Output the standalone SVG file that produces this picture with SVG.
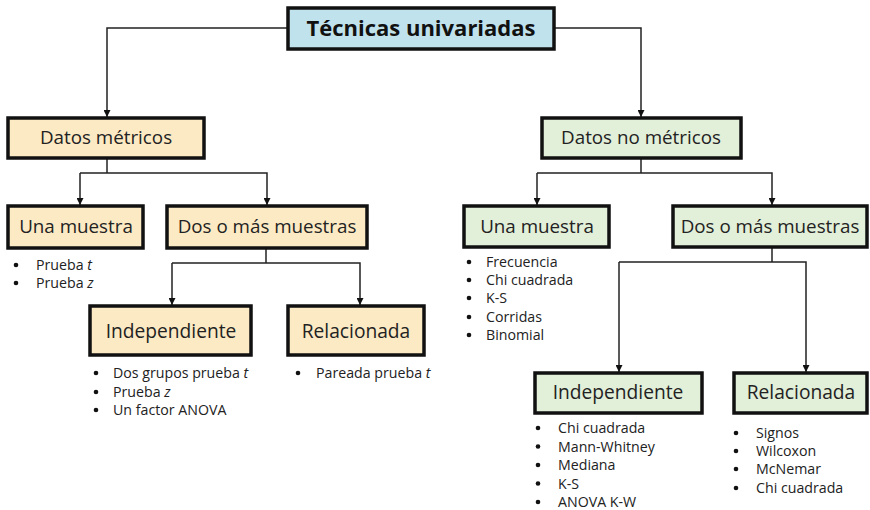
<svg xmlns="http://www.w3.org/2000/svg" width="870" height="510" viewBox="0 0 870 510">
<style>
.box{stroke:#111;stroke-width:3.5}
.blue{fill:#C0E2EC}
.beige{fill:#FCEAC4}
.green{fill:#E2EFD9}
.lbl{font-family:"Open Sans","Liberation Sans",sans-serif;font-size:18.8px;fill:#222;text-anchor:middle}
.lbl2{font-family:"Open Sans","Liberation Sans",sans-serif;font-size:19.2px;fill:#222;text-anchor:middle}
.title{font-family:"Open Sans","Liberation Sans",sans-serif;font-size:22px;font-weight:bold;fill:#111;text-anchor:middle}
.it{font-family:"Open Sans","Liberation Sans",sans-serif;font-size:14.2px;fill:#222}
.conn{fill:none;stroke:#222;stroke-width:1.5;marker-end:url(#ah)}
.conn0{fill:none;stroke:#222;stroke-width:1.5}
.dot{fill:#111}
</style>
<defs>
<marker id="ah" viewBox="0 0 10 10" refX="10" refY="5" markerWidth="7" markerHeight="7" markerUnits="userSpaceOnUse" orient="auto">
<path d="M0,0 L10,5 L0,10 z" fill="#111"/>
</marker>
</defs>
<g id="connectors">
<path class="conn" d="M287,28 H107 V117"/>
<path class="conn" d="M554,28 H641 V117"/>
<path class="conn0" d="M107,158 V173"/>
<path class="conn" d="M80,173 V205"/>
<path class="conn" d="M80,173 H267 V205"/>
<path class="conn0" d="M266,248 V263"/>
<path class="conn" d="M172,263 V305"/>
<path class="conn" d="M172,263 H360 V305"/>
<path class="conn0" d="M641,158 V173"/>
<path class="conn" d="M537,173 V205"/>
<path class="conn" d="M537,173 H772 V205"/>
<path class="conn0" d="M772,247 V262"/>
<path class="conn" d="M619,262 V372"/>
<path class="conn" d="M619,262 H806 V372"/>
</g>
<g id="root">
<rect class="box blue" x="288" y="8" width="266" height="41"/>
<text class="title" x="421" y="36">Técnicas univariadas</text>
</g>
<g id="metricos">
<rect class="box beige" x="8" y="118" width="196" height="40"/>
<text class="lbl" x="106" y="144">Datos métricos</text>
</g>
<g id="nometricos">
<rect class="box green" x="542" y="118" width="199" height="40"/>
<text class="lbl" x="641" y="144">Datos no métricos</text>
</g>
<g id="m-una">
<rect class="box beige" x="8" y="206" width="135" height="42"/>
<text class="lbl" x="76" y="233">Una muestra</text>
<circle class="dot" cx="16" cy="265" r="2.3"/>
<text class="it" x="36" y="270">Prueba <tspan font-style="italic">t</tspan></text>
<circle class="dot" cx="16" cy="283" r="2.3"/>
<text class="it" x="36" y="288">Prueba <tspan font-style="italic">z</tspan></text>
</g>
<g id="m-dos">
<rect class="box beige" x="167" y="206" width="200" height="42"/>
<text class="lbl" x="267" y="233">Dos o más muestras</text>
</g>
<g id="m-indep">
<rect class="box beige" x="90" y="306" width="161" height="49"/>
<text class="lbl2" x="171" y="338">Independiente</text>
<circle class="dot" cx="96" cy="373" r="2.3"/>
<text class="it" x="113" y="378">Dos grupos prueba <tspan font-style="italic">t</tspan></text>
<circle class="dot" cx="96" cy="392" r="2.3"/>
<text class="it" x="113" y="397">Prueba <tspan font-style="italic">z</tspan></text>
<circle class="dot" cx="96" cy="410" r="2.3"/>
<text class="it" x="113" y="415">Un factor ANOVA</text>
</g>
<g id="m-rel">
<rect class="box beige" x="288" y="306" width="136" height="49"/>
<text class="lbl2" x="356" y="338">Relacionada</text>
<circle class="dot" cx="298" cy="373" r="2.3"/>
<text class="it" x="316" y="378">Pareada prueba <tspan font-style="italic">t</tspan></text>
</g>
<g id="n-una">
<rect class="box green" x="464" y="206" width="145" height="41"/>
<text class="lbl" x="537" y="233">Una muestra</text>
<circle class="dot" cx="469" cy="262" r="2.3"/>
<text class="it" x="486" y="267">Frecuencia</text>
<circle class="dot" cx="469" cy="280" r="2.3"/>
<text class="it" x="486" y="285">Chi cuadrada</text>
<circle class="dot" cx="469" cy="298" r="2.3"/>
<text class="it" x="486" y="303">K-S</text>
<circle class="dot" cx="469" cy="317" r="2.3"/>
<text class="it" x="486" y="322">Corridas</text>
<circle class="dot" cx="469" cy="335" r="2.3"/>
<text class="it" x="486" y="340">Binomial</text>
</g>
<g id="n-dos">
<rect class="box green" x="673" y="206" width="194" height="41"/>
<text class="lbl" x="770" y="233">Dos o más muestras</text>
</g>
<g id="n-indep">
<rect class="box green" x="535" y="373" width="167" height="40"/>
<text class="lbl2" x="618" y="399">Independiente</text>
<circle class="dot" cx="538" cy="428" r="2.3"/>
<text class="it" x="558" y="433">Chi cuadrada</text>
<circle class="dot" cx="538" cy="446.5" r="2.3"/>
<text class="it" x="558" y="451.5">Mann-Whitney</text>
<circle class="dot" cx="538" cy="465" r="2.3"/>
<text class="it" x="558" y="470">Mediana</text>
<circle class="dot" cx="538" cy="483.5" r="2.3"/>
<text class="it" x="558" y="488.5">K-S</text>
<circle class="dot" cx="538" cy="502" r="2.3"/>
<text class="it" x="558" y="507">ANOVA K-W</text>
</g>
<g id="n-rel">
<rect class="box green" x="734" y="373" width="133" height="40"/>
<text class="lbl2" x="801" y="399">Relacionada</text>
<circle class="dot" cx="736" cy="433" r="2.3"/>
<text class="it" x="756" y="438">Signos</text>
<circle class="dot" cx="736" cy="451" r="2.3"/>
<text class="it" x="756" y="456">Wilcoxon</text>
<circle class="dot" cx="736" cy="469" r="2.3"/>
<text class="it" x="756" y="474">McNemar</text>
<circle class="dot" cx="736" cy="488" r="2.3"/>
<text class="it" x="756" y="493">Chi cuadrada</text>
</g>
</svg>
